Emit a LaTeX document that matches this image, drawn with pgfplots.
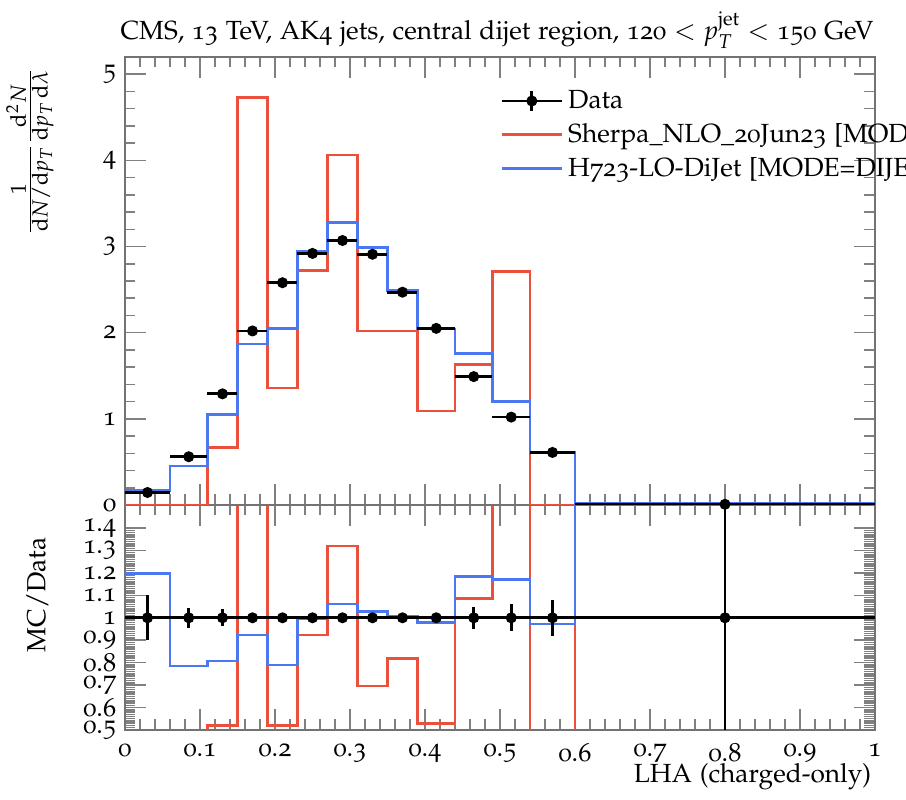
\documentclass[border=0pt]{standalone}
\usepackage[T1]{fontenc}
\usepackage[osf]{mathpazo}
\usepackage{pgfplots}
\pgfplotsset{compat=1.18}

\definecolor{mcred}{RGB}{235,80,60}
\definecolor{mcblue}{RGB}{75,120,240}
\newcommand{\fs}{\fontsize{10.5}{12}\selectfont}

% bin edges: 0 .06 .11 .15 .19 .23 .27 .31 .35 .39 .44 .49 .54 .60 1.0
\pgfplotstableread{
x     ex     y     ey
0.03  0.03   0.145 0.01
0.085 0.025  0.56  0.02
0.13  0.02   1.29  0.03
0.17  0.02   2.02  0.03
0.21  0.02   2.58  0.03
0.25  0.02   2.92  0.03
0.29  0.02   3.07  0.03
0.33  0.02   2.91  0.03
0.37  0.02   2.47  0.03
0.415 0.025  2.05  0.03
0.465 0.025  1.49  0.03
0.515 0.025  1.02  0.03
0.57  0.03   0.61  0.03
0.80  0.20   0.008 0.01
}\data

\pgfplotstableread{
x     ex     y  ey
0.03  0.03   1  0.10
0.085 0.025  1  0.045
0.13  0.02   1  0.037
0.17  0.02   1  0.02
0.21  0.02   1  0.015
0.25  0.02   1  0.015
0.29  0.02   1  0.015
0.33  0.02   1  0.015
0.37  0.02   1  0.02
0.415 0.025  1  0.02
0.465 0.025  1  0.05
0.515 0.025  1  0.06
0.57  0.03   1  0.08
0.80  0.20   1  10
}\dataratio

\pgfplotsset{
  hep/.style={
    scale only axis, width=300pt,
    xmin=0, xmax=1,
    xtick={0,0.1,0.2,0.3,0.4,0.5,0.6,0.7,0.8,0.9,1},
    minor x tick num=4,
    tick align=inside,
    major tick length=8.5pt, minor tick length=4.2pt,
    every tick/.append style={black!50, line width=0.6pt},
    axis line style={black!55, line width=0.6pt},
    tick label style={font=\fs},
    /pgf/number format/assume math mode=true,
  },
  mc/.style={const plot, line width=1pt, forget plot},
  dat/.style={black, only marks, mark=*, mark size=2pt, forget plot,
    error bars/.cd, x dir=both, x explicit, y dir=both, y explicit,
    error mark=none, error bar style={black, line width=1.1pt}},
}

\begin{document}
\begin{tikzpicture}
\begin{axis}[hep, name=ratio, at={(0,0)}, anchor=south west,
  height=90pt, ymin=0.5, ymax=1.503,
  ytick={0.5,0.6,0.7,0.8,0.9,1,1.1,1.2,1.3,1.4},
  minor y tick num=9,
  xticklabel style={yshift=-2pt},
  yticklabel style={inner ysep=0pt}]
\addplot[mc, mcred] coordinates {
 (0,0) (0.06,0) (0.11,0.52) (0.15,2.34) (0.19,0.52) (0.23,0.923)
 (0.27,1.32) (0.31,0.696) (0.35,0.819) (0.39,0.529) (0.44,1.086)
 (0.49,2.66) (0.54,0) (0.60,3) (1.0,3)};
\addplot[mc, mcblue] coordinates {
 (0,1.197) (0.06,0.785) (0.11,0.807) (0.15,0.923) (0.19,0.79) (0.23,0.995)
 (0.27,1.062) (0.31,1.027) (0.35,1.007) (0.39,0.98) (0.44,1.185)
 (0.49,1.17) (0.54,0.973) (0.60,3) (1.0,3)};
\addplot[black, line width=1pt, forget plot] coordinates {(0,1) (1,1)};
\addplot[dat] table[x=x, y=y, x error=ex, y error=ey] {\dataratio};
\end{axis}

\begin{axis}[hep, name=main, at={(ratio.north west)}, anchor=south west,
  height=179.2pt, ymin=0, ymax=5.2,
  ytick={0,1,2,3,4,5}, minor y tick num=4,
  xticklabels={},
  legend cell align=left,
  legend style={at={(rel axis cs:0.5,1)}, anchor=north west, yshift=-9pt,
    draw=none, fill=none, font=\fs,
    inner xsep=0pt, row sep=0.5pt},
  legend image code/.code={\draw[#1] (0pt,0pt) -- (24pt,0pt);}]
\addlegendimage{legend image code/.code={
  \draw[black, line width=1.1pt] (0pt,0pt) -- (24pt,0pt);
  \draw[black, line width=1.1pt] (12pt,-4pt) -- (12pt,4pt);
  \fill[black] (12pt,0pt) circle (2pt);}}
\addlegendentry{Data}
\addlegendimage{mcred, line width=1pt}
\addlegendentry{Sherpa\_NLO\_20Jun23 [MODE=DIJET]}
\addlegendimage{mcblue, line width=1pt}
\addlegendentry{H723-LO-DiJet [MODE=DIJET]}
\addplot[mc, mcred] coordinates {
 (0,0) (0.06,0) (0.11,0.67) (0.15,4.73) (0.19,1.36) (0.23,2.72)
 (0.27,4.06) (0.31,2.02) (0.35,2.02) (0.39,1.09) (0.44,1.63)
 (0.49,2.71) (0.54,0) (0.60,0.02) (1.0,0.02)};
\addplot[mc, mcblue] coordinates {
 (0,0.17) (0.06,0.45) (0.11,1.05) (0.15,1.87) (0.19,2.05) (0.23,2.94)
 (0.27,3.28) (0.31,2.99) (0.35,2.49) (0.39,2.04) (0.44,1.76)
 (0.49,1.20) (0.54,0.61) (0.60,0.02) (1.0,0.02)};
\addplot[dat] table[x=x, y=y, x error=ex, y error=ey] {\data};
\end{axis}

\node[anchor=base east, font=\fs]
  at ([yshift=6.8pt, xshift=3pt]main.north east)
  {CMS, 13 TeV, AK4 jets, central dijet region, 120 $< p_T^{\mathrm{jet}} <$ 150 GeV};
\node[rotate=90, anchor=east, font=\fontsize{11.5}{13}\selectfont]
  at ([xshift=-38pt, yshift=-1pt]main.north west)
  {$\frac{1}{\mathrm{d}N/\mathrm{d}p_T}\frac{\mathrm{d}^2N}{\mathrm{d}p_T\,\mathrm{d}\lambda}$};
\node[rotate=90, font=\fs]
  at ([xshift=-35pt, yshift=9pt]ratio.west) {MC/Data};
\node[anchor=base east, font=\fs]
  at ([yshift=-21.2pt, xshift=2pt]ratio.south east) {LHA (charged-only)};

\pgfresetboundingbox
\path ([shift={(-50pt,-28pt)}]ratio.south west) rectangle ++(362.4pt,320pt);
\end{tikzpicture}
\end{document}
